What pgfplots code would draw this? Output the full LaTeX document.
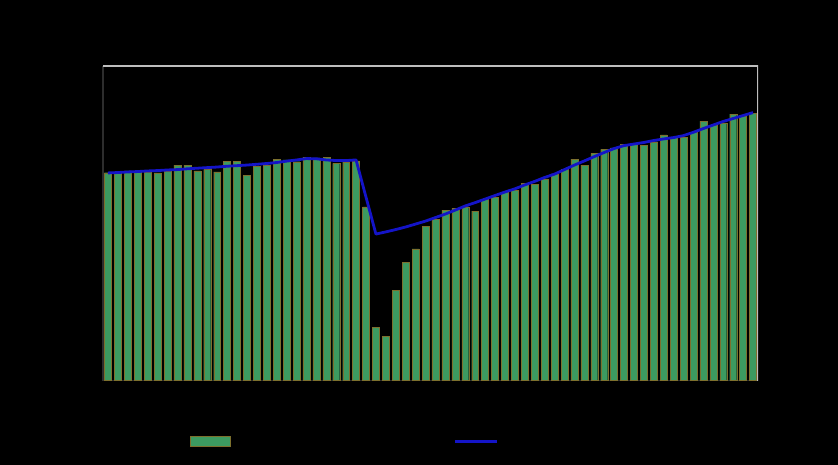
\documentclass[border=0pt]{standalone}
\usepackage{pgfplots}
\pgfplotsset{compat=1.18}
\usepackage{pgfplotstable}
\definecolor{bargreen}{RGB}{60,154,96}
\definecolor{baredge}{RGB}{125,112,45}
\definecolor{trendblue}{RGB}{20,20,200}
\definecolor{framegray}{RGB}{190,190,190}
\definecolor{axisdark}{RGB}{45,45,45}

\pgfplotstableread{
x actual trend
0 105.7 105.6
1 105.4 105.8
2 106.7 106.1
3 105.8 106.3
4 106.1 106.6
5 105.6 106.8
6 106.7 107.1
7 109.6 107.3
8 109.6 107.7
9 106.7 108.0
10 107.4 108.3
11 106.1 108.6
12 111.5 109.0
13 111.5 109.3
14 104.5 109.6
15 108.8 110.0
16 109.6 110.4
17 112.6 110.9
18 112.3 111.6
19 111.3 112.2
20 113.4 112.9
21 113.2 112.8
22 113.4 112.2
23 110.5 111.9
24 111.3 111.9
25 111.7 112.2
26 88.3 93.3
27 27.1 74.5
28 22.6 75.6
29 45.8 76.8
30 60.2 78.1
31 66.9 79.6
32 78.6 81.1
33 82.0 82.9
34 86.7 84.7
35 87.6 86.7
36 88.4 88.8
37 86.2 90.5
38 92.3 92.3
39 93.2 94.1
40 95.7 95.9
41 96.9 97.5
42 100.3 99.5
43 99.9 101.3
44 102.6 103.3
45 105.1 105.0
46 107.3 107.3
47 112.6 109.6
48 109.6 111.7
49 115.6 113.9
50 117.6 116.0
51 118.3 118.0
52 120.2 119.5
53 120.4 120.3
54 119.8 121.1
55 121.5 122.1
56 124.9 122.9
57 123.6 123.6
58 123.6 124.6
59 126.1 126.3
60 131.9 128.2
61 129.7 130.0
62 131.1 131.8
63 135.5 133.3
64 134.6 134.8
65 135.9 136.3
}\datatable

\begin{document}
\begin{tikzpicture}
\fill[black] (0,0) rectangle (838bp,465bp);
\begin{axis}[
  at={(103bp,84.5bp)}, anchor=south west,
  width=655bp, height=314.5bp, scale only axis,
  xmin=-0.5, xmax=65.5, ymin=0, ymax=160,
  axis lines*=left,
  axis line style={axisdark, line width=1.2bp},
  tick style={black},
  tick align=outside,
  ticklabel style={text=black},
  xtick={0,6,...,60},
  xticklabels={Jan 2018,Jul 2018,Jan 2019,Jul 2019,Jan 2020,Jul 2020,Jan 2021,Jul 2021,Jan 2022,Jul 2022,Jan 2023},
  ytick={0,20,...,160},
  legend columns=2,
  legend style={at={(axis description cs:0.128,-0.1924)}, anchor=west,
    draw=none, fill=none, text=black,
    /tikz/every even column/.append style={column sep=0pt}},
]
\addplot[ybar, bar width=0.7, fill=bargreen, draw=baredge, line width=0.3bp,
  legend image code/.code={\draw[fill=bargreen, draw=baredge, line width=0.3bp] (0bp,-5bp) rectangle (40bp,5bp);}]
  table[x=x, y=actual]{\datatable};
\addlegendentry{\makebox[219bp][l]{Actual}}
\addplot[trendblue, line width=2.8bp, mark=none, line join=round,
  legend image code/.code={\draw[trendblue, line width=3bp] (0bp,0bp) -- (42bp,0bp);}]
  table[x=x, y=trend]{\datatable};
\addlegendentry{Trend}
\draw[framegray, line width=1.5bp] (rel axis cs:0,1) -- (rel axis cs:1,1) -- (rel axis cs:1,0);
\end{axis}
\pgfresetboundingbox
\useasboundingbox (0,0) rectangle (838bp,465bp);
\end{tikzpicture}
\end{document}
